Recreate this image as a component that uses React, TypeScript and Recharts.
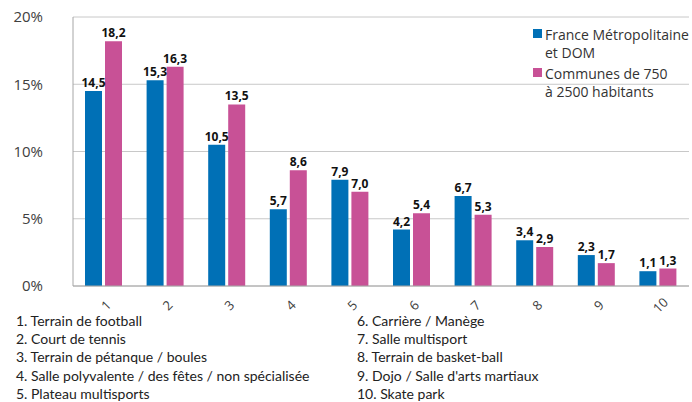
import {
  Bar,
  BarChart,
  CartesianGrid,
  LabelList,
  Legend,
  XAxis,
  YAxis,
} from 'recharts';

const categories = ['1', '2', '3', '4', '5', '6', '7', '8', '9', '10'];
const franceValues = [14.5, 15.3, 10.5, 5.7, 7.9, 4.2, 6.7, 3.4, 2.3, 1.1];
const communesValues = [18.2, 16.3, 13.5, 8.6, 7.0, 5.4, 5.3, 2.9, 1.7, 1.3];
const yTicks = [0, 5, 10, 15, 20];
const boundaryTicks = [0, 1, 2, 3, 4, 5, 6, 7, 8, 9, 10];
const seriesNames = ['France Métropolitaine\net DOM', 'Communes de 750\nà 2500 habitants'];
const equipmentNames = [
  'Terrain de football',
  'Court de tennis',
  'Terrain de pétanque / boules',
  'Salle polyvalente / des fêtes / non spécialisée',
  'Plateau multisports',
  'Carrière / Manège',
  'Salle multisport',
  'Terrain de basket-ball',
  "Dojo / Salle d'arts martiaux",
  'Skate park',
];

const BLUE = '#0070b6';
const PINK = '#c85196';
const FONT = '"Open Sans", "Noto Sans", sans-serif';

const data = categories.map((c, i) => ({
  cat: c,
  france: franceValues[i],
  communes: communesValues[i],
}));

const fmt = (v: unknown) => Number(v).toFixed(1).replace('.', ',');

function XTick({ x, y, payload }: any) {
  return (
    <text
      transform={`translate(${x + 2},${y + 11}) rotate(-45)`}
      textAnchor="middle"
      dominantBaseline="central"
      fontSize={13}
      fill="#404040"
      fontFamily={FONT}
    >
      {payload.value}
    </text>
  );
}

function LegendBox() {
  const colors = [BLUE, PINK];
  return (
    <div style={{ fontFamily: FONT, fontSize: 14, color: '#333', lineHeight: '18px' }}>
      {seriesNames.map((n, i) => (
        <div key={n} style={{ position: 'relative', paddingLeft: 12, marginBottom: i === 0 ? 3 : 0 }}>
          <span
            style={{
              position: 'absolute',
              left: 0,
              top: 3,
              width: 9,
              height: 9,
              background: colors[i],
            }}
          />
          {n.split('\n').map((l) => (
            <div key={l}>{l}</div>
          ))}
        </div>
      ))}
    </div>
  );
}

export default function App() {
  return (
    <div style={{ position: 'absolute', left: 0, top: 0, width: 692, height: 402, background: '#fff' }}>
      <BarChart
        width={692}
        height={320}
        data={data}
        margin={{ top: 17, right: 3, left: 0, bottom: 0 }}
        barSize={17}
        barGap={3}
      >
        <CartesianGrid stroke="#c8c8c8" vertical={false} />
        <XAxis
          xAxisId="bounds"
          type="number"
          domain={[0, 10]}
          ticks={boundaryTicks}
          tick={false}
          axisLine={false}
          tickLine={{ stroke: '#a6a6a6' }}
          tickSize={5}
          height={0}
        />
        <XAxis
          dataKey="cat"
          tick={<XTick />}
          tickLine={false}
          axisLine={{ stroke: '#a6a6a6' }}
          height={34}
          interval={0}
        />
        <YAxis
          domain={[0, 20]}
          ticks={yTicks}
          tickFormatter={(v) => `${v}%`}
          tick={{ fontSize: 15, fill: '#404040', fontFamily: FONT }}
          tickLine={false}
          tickSize={0}
          tickMargin={30}
          axisLine={{ stroke: '#a6a6a6' }}
          width={73}
        />
        <Legend
          layout="vertical"
          align="center"
          verticalAlign="middle"
          wrapperStyle={{ top: 26, left: 533, width: 160 }}
          content={() => <LegendBox />}
        />
        <Bar dataKey="france" fill={BLUE} isAnimationActive={false}>
          <LabelList
            dataKey="france"
            position="top"
            offset={4}
            formatter={fmt}
            style={{ fontSize: 12, fontWeight: 'bold', fill: '#111', fontFamily: FONT }}
          />
        </Bar>
        <Bar dataKey="communes" fill={PINK} isAnimationActive={false}>
          <LabelList
            dataKey="communes"
            position="top"
            offset={4}
            formatter={fmt}
            style={{ fontSize: 12, fontWeight: 'bold', fill: '#111', fontFamily: FONT }}
          />
        </Bar>
      </BarChart>
      <div
        style={{
          position: 'absolute',
          top: 312,
          left: 16,
          width: 676,
          fontFamily: 'Lato, sans-serif',
          fontSize: 14,
          lineHeight: '18.2px',
          color: '#222',
          display: 'grid',
          gridTemplateColumns: '341px 330px',
          gridAutoFlow: 'column',
          gridTemplateRows: 'repeat(5, 18.2px)',
        }}
      >
        {equipmentNames.map((n, i) => (
          <div key={n} style={{ whiteSpace: 'nowrap' }}>{`${i + 1}. ${n}`}</div>
        ))}
      </div>
    </div>
  );
}
